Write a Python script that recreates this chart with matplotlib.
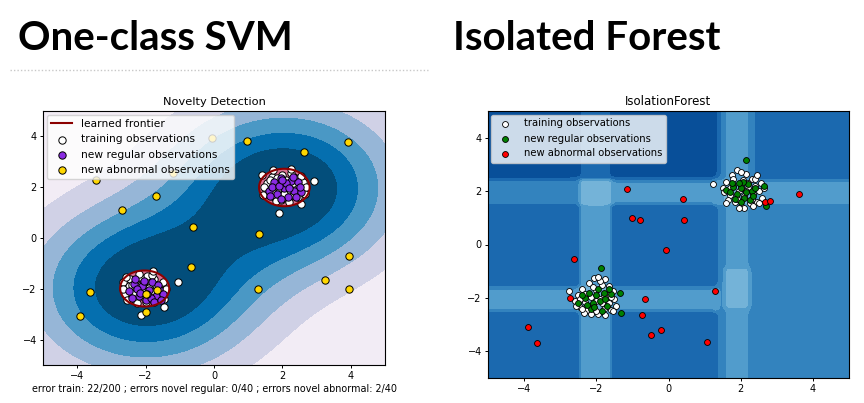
import numpy as np
import matplotlib
matplotlib.use("Agg")
import matplotlib.pyplot as plt
from matplotlib.lines import Line2D

# ---------------- text ----------------
title_left = "One-class SVM"
title_right = "Isolated Forest"
svm_title = "Novelty Detection"
if_title = "IsolationForest"
svm_xlabel = "error train: 22/200 ; errors novel regular: 0/40 ; errors novel abnormal: 2/40"
svm_labels = ["learned frontier", "training observations",
              "new regular observations", "new abnormal observations"]
if_labels = ["training observations", "new regular observations",
             "new abnormal observations"]
ticks = [-4, -2, 0, 2, 4]

# ---------------- One-class SVM panel data ----------------
svm_train = [
    (2.0, 2.0), (1.8, 2.1), (2.2, 1.9), (1.9, 1.7), (2.1, 2.3), (2.4, 2.1), (1.6, 1.9),
    (2.3, 1.7), (1.7, 2.4), (2.5, 1.9), (2.0, 2.5), (1.95, 1.5), (2.35, 2.4), (1.55, 2.15),
    (2.6, 2.2), (2.15, 1.55), (1.75, 1.6), (2.45, 1.6), (1.65, 2.3), (2.25, 2.55),
    (1.85, 2.35), (2.05, 1.75), (2.55, 2.45), (1.5, 1.75), (2.65, 1.75), (2.3, 2.15),
    (1.9, 1.95), (2.1, 2.05), (1.7, 1.85), (2.4, 1.85), (2.0, 2.2), (1.8, 1.45),
    (2.2, 1.4), (2.7, 2.0), (1.45, 2.0),
    (1.41, 2.48), (2.93, 2.26), (1.90, 0.97), (2.54, 1.34), (2.25, 2.70), (1.73, 2.68),
    (1.44, 1.69),
    (-2.0, -2.0), (-1.8, -2.1), (-2.2, -1.9), (-1.9, -1.7), (-2.1, -2.3), (-2.4, -2.1),
    (-1.6, -1.9), (-2.3, -1.7), (-1.7, -2.4), (-2.5, -1.9), (-2.0, -2.5), (-1.95, -1.5),
    (-2.35, -2.4), (-1.55, -2.15), (-2.6, -2.2), (-2.15, -1.55), (-1.75, -1.6),
    (-2.45, -1.6), (-1.65, -2.3), (-2.25, -2.55), (-1.85, -2.35), (-2.05, -1.75),
    (-2.55, -2.45), (-1.5, -1.75), (-2.65, -1.75), (-2.3, -2.15), (-1.9, -1.95),
    (-2.1, -2.05), (-1.7, -1.85), (-2.4, -1.85), (-2.0, -2.2), (-1.8, -1.45),
    (-2.2, -1.4), (-1.4, -2.0), (-1.45, -2.4),
    (-2.57, -1.55), (-1.04, -1.74), (-1.45, -2.70), (-2.14, -3.03), (-2.67, -2.02),
    (-1.77, -1.29),
]
svm_regular = [
    (1.6, 1.85), (1.75, 2.2), (1.85, 1.75), (1.95, 2.35), (2.05, 1.95), (2.15, 1.6),
    (2.25, 2.25), (2.35, 1.85), (2.45, 2.2), (2.55, 1.8), (1.7, 2.0), (1.9, 2.05),
    (2.1, 2.15), (2.3, 2.4), (2.5, 2.0), (1.65, 1.65), (1.95, 1.55), (2.2, 1.95),
    (2.4, 1.6), (2.0, 2.3),
    (-2.5, -2.1), (-2.35, -1.8), (-2.2, -2.3), (-2.1, -1.9), (-2.0, -2.45), (-1.9, -2.05),
    (-1.8, -1.75), (-1.7, -2.3), (-1.6, -2.0), (-1.5, -2.2), (-2.4, -2.35), (-2.25, -2.0),
    (-2.05, -1.7), (-1.85, -2.35), (-1.65, -1.85), (-2.3, -1.6), (-1.95, -2.2),
    (-1.75, -2.5), (-2.15, -2.15), (-1.55, -2.45),
]
svm_abnormal = [
    (-0.07, 3.94), (0.96, 3.82), (3.91, 3.76), (2.63, 3.39), (-3.46, 2.27), (-1.20, 2.56),
    (-1.70, 1.66), (-2.70, 1.12), (-0.61, 0.45), (1.33, 0.14), (-0.68, -1.13),
    (3.94, -0.71), (-3.63, -2.13), (1.30, -2.02), (3.25, -1.64), (3.94, -2.00),
    (-3.92, -3.07), (-1.98, -2.93), (-1.98, -2.21), (-1.68, -2.05),
]
svm_gamma_wide = 0.1     # smooth far-field shading
svm_gamma_narrow = 0.9   # tight learned frontier
svm_train_error_fraction = 22 / 200

# ---------------- IsolationForest panel data ----------------
if_train = [
    (1.24, 2.25), (1.5, 2.1), (1.6, 2.35), (1.7, 1.85), (1.75, 2.6), (1.8, 2.2), (1.85, 1.6),
    (1.9, 2.8), (1.95, 2.0), (2.0, 1.45), (2.05, 2.4), (2.1, 1.8), (2.15, 2.65), (2.2, 2.1),
    (2.25, 1.55), (2.3, 2.45), (2.35, 1.9), (2.4, 2.2), (2.45, 1.6), (2.5, 2.0), (2.55, 2.3),
    (2.6, 1.75), (2.65, 2.1), (1.65, 1.65), (1.55, 1.95), (2.0, 2.7), (2.1, 1.38), (2.3, 1.7),
    (1.9, 1.7), (2.2, 2.3), (2.0, 2.2), (1.8, 2.45), (2.4, 2.45), (2.5, 1.55), (1.7, 2.1),
    (2.15, 2.0), (2.45, 2.6), (1.95, 1.35), (2.35, 1.45), (1.6, 1.55),
    (-2.75, -1.75), (-2.6, -2.1), (-2.5, -1.9), (-2.45, -2.35), (-2.4, -1.65), (-2.3, -2.15),
    (-2.25, -2.45), (-2.2, -1.45), (-2.15, -1.95), (-2.1, -2.3), (-2.05, -1.25), (-2.0, -1.7),
    (-1.95, -2.6), (-1.9, -2.05), (-1.85, -1.5), (-1.8, -2.4), (-1.75, -1.3), (-1.7, -1.9),
    (-1.65, -2.2), (-1.6, -2.45), (-1.55, -1.75), (-1.5, -2.05), (-1.45, -2.3),
    (-1.65, -1.55), (-2.35, -2.55), (-2.0, -2.5), (-1.9, -1.35), (-2.55, -2.3),
    (-1.75, -2.65), (-2.1, -1.6), (-1.85, -2.2), (-2.3, -1.85), (-2.0, -2.1), (-1.6, -1.95),
    (-2.45, -2.05), (-1.95, -1.2), (-2.15, -2.6), (-1.55, -2.5), (-2.4, -2.4), (-1.8, -1.9),
]
if_regular = [
    (2.14, 3.16), (2.71, 1.44), (2.65, 2.2), (1.6, 2.05), (1.8, 2.15), (1.9, 1.9),
    (2.0, 2.1), (2.1, 1.75), (2.2, 2.25), (2.3, 2.0), (1.85, 1.7), (2.05, 2.35),
    (2.25, 1.65), (1.7, 1.95), (2.4, 2.1), (1.95, 2.3), (2.15, 1.95), (2.0, 1.6),
    (1.75, 2.3), (2.35, 1.8),
    (-1.86, -0.87), (-1.32, -2.57), (-1.35, -1.8), (-2.5, -2.2), (-2.3, -2.0), (-2.2, -1.8),
    (-2.1, -2.2), (-2.0, -1.9), (-1.9, -2.1), (-1.8, -1.8), (-1.7, -2.3), (-2.15, -2.4),
    (-1.95, -1.65), (-1.75, -2.05), (-2.4, -1.9), (-1.6, -1.85), (-2.05, -2.35),
    (-1.85, -2.5), (-2.25, -2.25), (-1.65, -1.65),
]
if_abnormal = [
    (-1.15, 2.06), (0.40, 1.72), (-1.02, 1.01), (-0.80, 0.93), (0.43, 0.90), (-0.06, -0.22),
    (-2.63, -0.53), (-2.74, -1.99), (-0.65, -2.04), (-0.74, -2.63), (1.28, -1.76),
    (-0.49, -3.39), (-0.21, -3.22), (1.08, -3.65), (-3.90, -3.08), (-3.63, -3.69),
    (3.61, 1.90), (2.68, 1.60), (2.82, 1.62),
]
# anomaly-score field: base value + rectangular patches
if_base = 0.55
if_rect_x0 = [-6.0, -1.55, -2.45, 1.30, 1.55, 2.45, -6.0, -1.60, 2.40, -6.0, 1.50]
if_rect_x1 = [-2.50, 1.40, -1.60, 2.45, 2.25, 6.0, 6.0, 1.45, 6.0, 1.40, 2.30]
if_rect_y0 = [2.55, 2.55, -6.0, -6.0, -6.0, -6.0, 1.50, 1.50, 1.50, -2.50, -2.40]
if_rect_y1 = [6.0, 6.0, 2.45, 6.0, 6.0, 1.50, 2.40, 2.40, 2.40, -1.60, -0.90]
if_rect_val = [-0.55, -0.55, 1.25, 0.5, 0.6, 0.5, 0.6, 0.4, 0.5, 1.0, 0.5]
if_cap = 2.2
if_levels = [0.0, 0.5, 1.0, 1.5, 2.0, 2.5, 3.0, 3.5, 4.0]

# ---------------- figure ----------------
W, H = 864, 403
fig = plt.figure(figsize=(W / 100, H / 100), dpi=100)
fig.patch.set_facecolor("white")

fig.text(18 / W, 1 - 50 / H, title_left, fontsize=29, fontweight="bold",
         family=["Lato", "DejaVu Sans"], va="baseline", ha="left")
fig.text(453 / W, 1 - 50 / H, title_right, fontsize=29, fontweight="bold",
         family=["Lato", "DejaVu Sans"], va="baseline", ha="left")
fig.add_artist(Line2D([10 / W, 428 / W], [1 - 70 / H, 1 - 70 / H], ls=(0, (1, 1.5)),
                      color="#c8c8c8", lw=1.0))


def setup(ax):
    ax.set_xlim(-5, 5)
    ax.set_ylim(-5, 5)
    ax.set_xticks(ticks)
    ax.set_yticks(ticks)
    ax.tick_params(labelsize=7, length=2.5, width=0.7, pad=2)
    for s in ax.spines.values():
        s.set_linewidth(0.8)


# ---- left panel ----
ax1 = fig.add_axes([43 / W, 1 - 365 / H, 342 / W, 254 / H])
tr = np.array(svm_train)
reg = np.array(svm_regular)
ab = np.array(svm_abnormal)
g = np.linspace(-5, 5, 300)
xx, yy = np.meshgrid(g, g)
P = np.c_[xx.ravel(), yy.ravel()]


def kern(points, gamma):
    d2 = ((points[:, None, :] - tr[None, :, :]) ** 2).sum(-1)
    return np.exp(-gamma * d2).mean(1)


rho_w = np.quantile(kern(tr, svm_gamma_wide), svm_train_error_fraction)
Zw = (kern(P, svm_gamma_wide) - rho_w).reshape(xx.shape)
rho_n = np.quantile(kern(tr, svm_gamma_narrow), svm_train_error_fraction)
Zn = (kern(P, svm_gamma_narrow) - rho_n).reshape(xx.shape)

band_levels = list(np.linspace(Zw.min(), 0, 7))
band_cols = [plt.cm.PuBu((k + 0.5) / 6) for k in range(6)]
ax1.contourf(xx, yy, Zw, levels=band_levels + [max(Zw.max(), 1e-3) + 1e-3],
             colors=band_cols + [band_cols[-1]])
ax1.contour(xx, yy, Zn, levels=[0], linewidths=1.5, colors="darkred")
ax1.contourf(xx, yy, Zn, levels=[0, Zn.max()], colors="palevioletred")
s1 = 28
b1 = ax1.scatter(tr[:, 0], tr[:, 1], c="white", s=s1, edgecolors="k", linewidths=0.7)
b2 = ax1.scatter(reg[:, 0], reg[:, 1], c="blueviolet", s=s1, edgecolors="k", linewidths=0.7)
c1 = ax1.scatter(ab[:, 0], ab[:, 1], c="gold", s=s1, edgecolors="k", linewidths=0.7)
setup(ax1)
ax1.set_title(svm_title, fontsize=8.2, pad=4)
ax1.set_xlabel(svm_xlabel, fontsize=6.9, labelpad=2)
ax1.legend([Line2D([], [], color="darkred", lw=1.5), b1, b2, c1], svm_labels,
           loc="upper left", fontsize=7.7, borderaxespad=0.35, handletextpad=0.8)

# ---- right panel ----
ax2 = fig.add_axes([488 / W, 1 - 378 / H, 361 / W, 267 / H])
g2 = np.linspace(-5, 5, 120)
X2, Y2 = np.meshgrid(g2, g2)
w = 0.07


def band(v, a, b):
    return 0.5 * (np.tanh((v - a) / w) - np.tanh((v - b) / w))


Z2 = np.full(X2.shape, if_base)
for x0, x1, y0, y1, val in zip(if_rect_x0, if_rect_x1, if_rect_y0, if_rect_y1, if_rect_val):
    Z2 = Z2 + val * band(X2, x0, x1) * band(Y2, y0, y1)
Z2 = np.clip(Z2, 0.01, if_cap)
ax2.contourf(X2, Y2, Z2, levels=if_levels, cmap=plt.cm.Blues_r, vmin=-0.35, vmax=4.65)
tr2 = np.array(if_train)
reg2 = np.array(if_regular)
ab2 = np.array(if_abnormal)
s2 = 18
d1 = ax2.scatter(tr2[:, 0], tr2[:, 1], c="white", s=s2, edgecolors="k", linewidths=0.6)
d2 = ax2.scatter(reg2[:, 0], reg2[:, 1], c="green", s=s2, edgecolors="k", linewidths=0.6)
d3 = ax2.scatter(ab2[:, 0], ab2[:, 1], c="red", s=s2, edgecolors="k", linewidths=0.6)
setup(ax2)
ax2.set_title(if_title, fontsize=8.5, pad=4)
ax2.legend([d1, d2, d3], if_labels, loc="upper left", fontsize=7.2,
           borderaxespad=0.35, handletextpad=0.8)

fig.savefig("out.png", dpi=100)
